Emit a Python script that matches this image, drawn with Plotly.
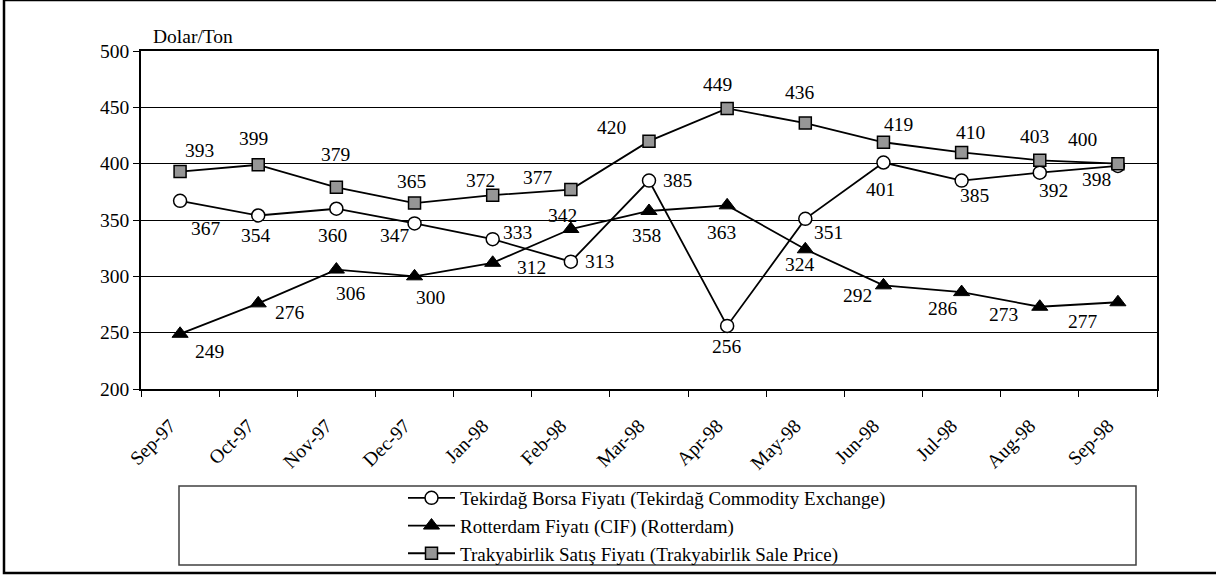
import plotly.graph_objects as go

# ---------------- data ----------------
months = ["Sep-97", "Oct-97", "Nov-97", "Dec-97", "Jan-98", "Feb-98", "Mar-98",
          "Apr-98", "May-98", "Jun-98", "Jul-98", "Aug-98", "Sep-98"]
tekirdag = [367, 354, 360, 347, 333, 313, 385, 256, 351, 401, 385, 392, 398]
rotterdam = [249, 276, 306, 300, 312, 342, 358, 363, 324, 292, 286, 273, 277]
trakya = [393, 399, 379, 365, 372, 377, 420, 449, 436, 419, 410, 403, 400]

name_tek = "Tekirdağ Borsa Fiyatı (Tekirdağ Commodity Exchange)"
name_rot = "Rotterdam Fiyatı (CIF) (Rotterdam)"
name_tra = "Trakyabirlik Satış Fiyatı (Trakyabirlik Sale Price)"
y_title = "Dolar/Ton"

# ---------------- label offsets (style, px: dx right, dy down) ----------------
off_tek = [(26, 28), (-2, 20), (-4, 27), (-20, 12), (25, -7), (29, 0), (28, 0),
           (0, 21), (23, 14), (-3, 27), (13, 15), (14, 18), (-21, 14)]
off_rot = [(29, 18), (32, 9), (15, 24), (16, 21), (39, 5), (-8, -14), (-3, 25),
           (-6, 27), (-5, 15), (-26, 10), (-19, 16), (-36, 8), (-35, 19)]
off_tra = [(19, -21), (-5, -26), (-1, -33), (-3, -22), (-12, -15), (-33, -12),
           (-38, -14), (-10, -24), (-5, -31), (15, -18), (9, -20), (-5, -24), (-35, -24)]

FONT = "Liberation Serif"
FS = 19.5
LEG_FS = 19

# plot-area pixel geometry
L, R, T, B = 141, 1157, 51, 389
W, H = R - L, B - T


def px_x(px):
    return (px - L) / W


def px_y(py):
    return (B - py) / H


fig = go.Figure()

fig.add_trace(go.Scatter(
    x=months, y=tekirdag, name=name_tek, mode="lines+markers",
    line=dict(color="black", width=1.8),
    marker=dict(symbol="circle", size=13, color="white", line=dict(color="black", width=1.5)),
))
fig.add_trace(go.Scatter(
    x=months, y=rotterdam, name=name_rot, mode="lines+markers",
    line=dict(color="black", width=1.8),
    marker=dict(symbol="triangle-up", size=14, color="black", line=dict(color="black", width=1)),
))
fig.add_trace(go.Scatter(
    x=months, y=trakya, name=name_tra, mode="lines+markers",
    line=dict(color="black", width=1.8),
    marker=dict(symbol="square", size=12, color="#969696", line=dict(color="black", width=1.5)),
))

annotations = []
for vals, offs in ((tekirdag, off_tek), (rotterdam, off_rot), (trakya, off_tra)):
    for m, v, (dx, dy) in zip(months, vals, offs):
        annotations.append(dict(
            x=m, y=v, xref="x", yref="y", text=str(v), showarrow=False,
            xshift=dx, yshift=-dy, xanchor="center", yanchor="middle",
            font=dict(family=FONT, size=FS, color="black"),
        ))

annotations.append(dict(
    x=px_x(151), y=px_y(36), xref="paper", yref="paper", text=y_title,
    showarrow=False, xanchor="left", yanchor="middle",
    font=dict(family=FONT, size=FS, color="black"),
))

shapes = [
    # legend frame
    dict(type="rect", xref="paper", yref="paper",
         x0=px_x(179), x1=px_x(1136), y0=px_y(565), y1=px_y(486),
         line=dict(color="#404040", width=1.5), fillcolor="rgba(0,0,0,0)", layer="below"),
    # outer chart frame
    dict(type="rect", xref="paper", yref="paper",
         x0=px_x(4), x1=px_x(1225), y0=px_y(573), y1=px_y(0),
         line=dict(color="black", width=2.5), fillcolor="rgba(0,0,0,0)", layer="below"),
]

fig.update_layout(
    width=1216, height=575,
    margin=dict(l=L, r=1216 - R, t=T, b=575 - B, autoexpand=False),
    paper_bgcolor="white", plot_bgcolor="white",
    font=dict(family=FONT, size=FS, color="black"),
    showlegend=True,
    legend=dict(
        x=px_x(403), y=px_y(479), xanchor="left", yanchor="top",
        bgcolor="rgba(0,0,0,0)", borderwidth=0, itemwidth=47,
        font=dict(family=FONT, size=LEG_FS, color="black"),
        tracegroupgap=0,
    ),
    annotations=annotations,
    shapes=shapes,
)

fig.update_xaxes(
    type="category", range=[-0.5, 12.5],
    showline=True, linecolor="black", linewidth=1.5, mirror=True,
    showgrid=False, ticks="outside", tickson="boundaries", ticklen=6,
    tickcolor="black", tickwidth=1.2, tickangle=-45,
    ticklabelstandoff=16, ticklabelshift=-10,
    tickfont=dict(family=FONT, size=FS, color="black"),
)
fig.update_yaxes(
    range=[200, 500], dtick=50, tick0=200,
    showline=True, linecolor="black", linewidth=1.5, mirror=True,
    showgrid=True, gridcolor="black", gridwidth=1,
    ticks="outside", ticklen=6, tickcolor="black", tickwidth=1.2,
    tickfont=dict(family=FONT, size=FS, color="black"),
    zeroline=False,
)

fig.write_html(
    "out.html",
    config={"displayModeBar": False},
    post_script="document.body.style.margin='0';document.body.style.overflow='hidden';",
)
